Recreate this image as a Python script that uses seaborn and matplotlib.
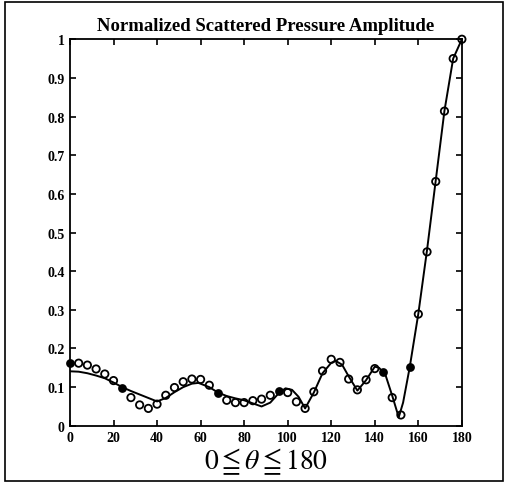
import matplotlib.pyplot as plt
import matplotlib.patches as mpatches
import numpy as np
import pandas as pd
import seaborn as sns

# measured points (open circles), every 4 degrees
theta_pts = list(range(0, 181, 4))
amp_pts = [
    0.163, 0.162, 0.157, 0.147, 0.134, 0.117, 0.097, 0.073, 0.054, 0.045,
    0.056, 0.079, 0.099, 0.114, 0.121, 0.120, 0.105, 0.085, 0.066, 0.060,
    0.060, 0.065, 0.069, 0.079, 0.089, 0.086, 0.062, 0.045, 0.088, 0.142,
    0.172, 0.164, 0.121, 0.093, 0.119, 0.148, 0.138, 0.073, 0.028, 0.151,
    0.289, 0.450, 0.632, 0.814, 0.950, 1.000,
]
filled_theta = [0, 24, 68, 96, 144, 156]

# computed curve
theta_line = [0, 4, 8, 12, 16, 20, 24, 28, 32, 36, 40, 44, 48, 52, 56, 59,
              64, 68, 72, 76, 80, 84, 88, 92, 96, 99, 102, 105, 108, 112,
              116, 120, 122, 125, 128, 132, 136, 140, 142, 145, 148, 151,
              153, 156, 160, 164, 168, 172, 176, 180]
amp_line = [0.141, 0.140, 0.136, 0.130, 0.123, 0.112, 0.100, 0.090, 0.081,
            0.072, 0.063, 0.072, 0.087, 0.100, 0.109, 0.111, 0.100, 0.086,
            0.077, 0.071, 0.066, 0.058, 0.050, 0.060, 0.085, 0.097, 0.093,
            0.075, 0.045, 0.086, 0.136, 0.163, 0.168, 0.158, 0.128, 0.091,
            0.118, 0.153, 0.150, 0.130, 0.078, 0.022, 0.060, 0.150, 0.290,
            0.455, 0.635, 0.815, 0.950, 1.000]

x_ticks = list(range(0, 181, 20))
y_ticks = [0, 0.1, 0.2, 0.3, 0.4, 0.5, 0.6, 0.7, 0.8, 0.9, 1]
y_labels = ["0", "0.1", "0.2", "0.3", "0.4", "0.5", "0.6", "0.7", "0.8", "0.9", "1"]

sns.set_theme(style="ticks")
plt.rcParams["font.family"] = ["Liberation Serif", "DejaVu Serif"]
plt.rcParams["mathtext.fontset"] = "stix"
plt.rcParams["text.color"] = "black"
plt.rcParams["axes.labelcolor"] = "black"

pts = pd.DataFrame({"theta": theta_pts, "amp": amp_pts})
pts["filled"] = pts["theta"].isin(filled_theta)

fig = plt.figure(figsize=(5.07, 4.85), dpi=100)
ax = fig.add_axes([0.138, 0.120, 0.773, 0.797])

sns.lineplot(x=theta_line, y=amp_line, ax=ax, color="black", linewidth=1.4,
             sort=False)
sns.scatterplot(data=pts[~pts["filled"]], x="theta", y="amp", ax=ax,
                marker="o", facecolor="none", edgecolor="black", s=28,
                linewidth=1.3, zorder=3, clip_on=False)
sns.scatterplot(data=pts[pts["filled"]], x="theta", y="amp", ax=ax,
                marker="o", color="black", edgecolor="black", s=26,
                linewidth=1.2, zorder=3, clip_on=False)

ax.set_xlim(0, 180)
ax.set_ylim(0, 1)
ax.set_xticks(x_ticks)
ax.set_yticks(y_ticks)
ax.set_yticklabels(y_labels)
ax.tick_params(direction="in", top=True, right=True, length=4, width=1.2,
               labelsize=10, colors="black", pad=4)
for lbl in ax.get_xticklabels() + ax.get_yticklabels():
    lbl.set_fontweight("bold")
for side in ["left", "bottom", "top", "right"]:
    ax.spines[side].set_linewidth(1.3)
    ax.spines[side].set_color("black")

ax.set_title("Normalized Scattered Pressure Amplitude", fontsize=13.5,
             fontweight="bold", pad=7, color="black")
ax.set_xlabel(r"$0 \leqq \theta \leqq 180$", fontsize=20, labelpad=1,
              color="black")
ax.set_ylabel("")

# scanned page border
fig.patches.append(mpatches.Rectangle((0.009, 0.006), 0.983, 0.988,
                                      transform=fig.transFigure, fill=False,
                                      edgecolor="black", linewidth=1.2))

fig.savefig("out.png", dpi=100)
